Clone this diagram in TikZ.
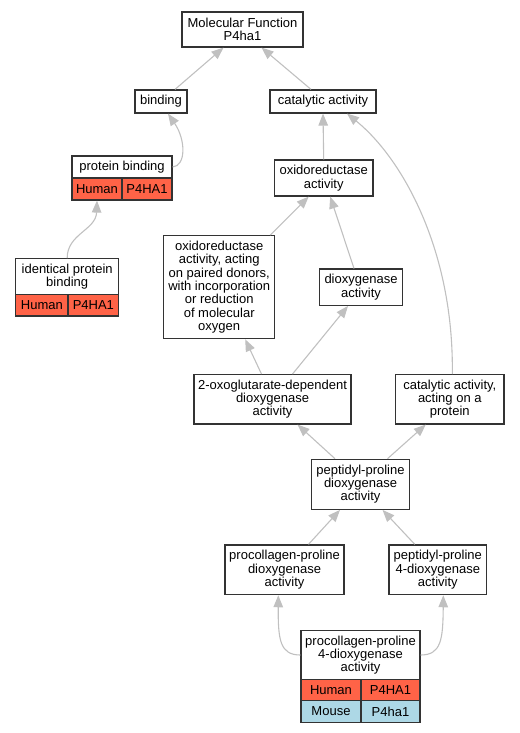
\documentclass[tikz,border=0pt]{standalone}
\usepackage{fontspec}
\setmainfont{Liberation Sans}
\usetikzlibrary{arrows.meta}
\definecolor{edgegray}{HTML}{C0C0C0}
\definecolor{boxline}{HTML}{333333}
\definecolor{tomatored}{HTML}{FF6347}
\definecolor{lblue}{HTML}{ADD8E6}
\newcommand{\gofont}{\fontsize{13}{13.3}\selectfont}
\tikzset{
  box/.style={draw=boxline, line width=1.2pt, fill=white, inner sep=0pt, align=center, font=\gofont},
  redcell/.style={box, fill=tomatored},
  bluecell/.style={box, fill=lblue},
  edge/.style={draw=edgegray, line width=1.1pt, -{Triangle[length=12pt,width=9.5pt,fill=edgegray]}}
}
\begin{document}
\begin{tikzpicture}[x=1pt,y=-1pt]
\useasboundingbox (0,0) rectangle (519,733);
% nodes
\node[box, minimum width=121pt, minimum height=35pt] (mf) at (242.5,29.5) {Molecular Function\\P4ha1};
\node[box, minimum width=52pt, minimum height=23pt] (bind) at (161,101.5) {binding};
\node[box, minimum width=106pt, minimum height=23pt] (cat) at (323,101.5) {catalytic activity};
% protein binding
\node[box, minimum width=100pt, minimum height=22pt] (pb) at (122,167) {protein binding};
\node[redcell, minimum width=50pt, minimum height=22pt] (pbh) at (97,189) {Human};
\node[redcell, minimum width=50pt, minimum height=22pt] (pbg) at (147,189) {P4HA1};
% identical protein binding
\node[box, minimum width=103pt, minimum height=36pt] (ipb) at (67.2,276.7) {identical protein\\binding};
\node[redcell, minimum width=52.3pt, minimum height=21.3pt] (ipbh) at (41.85,305.35) {Human};
\node[redcell, minimum width=50.7pt, minimum height=21.3pt] (ipbg) at (93.35,305.35) {P4HA1};
% oxidoreductase
\node[box, minimum width=98.7pt, minimum height=36pt] (ox) at (323.7,178) {oxidoreductase\\activity};
\node[box, minimum width=111pt, minimum height=103pt] (oxa) at (219.2,287.2) {oxidoreductase\\activity, acting\\on paired donors,\\with incorporation\\or reduction\\of molecular\\oxygen};
\node[box, minimum width=83.4pt, minimum height=36.3pt] (dio) at (361,287.2) {dioxygenase\\activity};
\node[box, minimum width=157pt, minimum height=49.3pt] (oxo) at (272.5,399.3) {2-oxoglutarate-dependent\\dioxygenase\\activity};
\node[box, minimum width=108.3pt, minimum height=49.3pt] (catp) at (449.8,399.3) {catalytic activity,\\acting on a\\protein};
\node[box, minimum width=97.7pt, minimum height=50pt] (pep) at (360.5,484.3) {peptidyl-proline\\dioxygenase\\activity};
\node[box, minimum width=119pt, minimum height=49.7pt] (pcd) at (284.5,569.8) {procollagen-proline\\dioxygenase\\activity};
\node[box, minimum width=97.7pt, minimum height=49.7pt] (pp4) at (437.8,569.8) {peptidyl-proline\\4-dioxygenase\\activity};
% procollagen-proline 4-dioxygenase
\node[box, minimum width=119pt, minimum height=48.6pt] (pc4) at (360.5,655) {procollagen-proline\\4-dioxygenase\\activity};
\node[redcell, minimum width=60pt, minimum height=21.4pt] (pc4h) at (331,690) {Human};
\node[redcell, minimum width=59pt, minimum height=21.4pt] (pc4g) at (390.5,690) {P4HA1};
\node[bluecell, minimum width=60pt, minimum height=21.6pt] (pc4m) at (331,711.5) {Mouse};
\node[bluecell, minimum width=59pt, minimum height=21.6pt] (pc4n) at (390.5,711.5) {P4ha1};
% edges
\draw[edge] ([xshift=14pt]bind.north) -- ([xshift=-19pt]mf.south);
\draw[edge] ([xshift=-12pt]cat.north) -- ([xshift=19pt]mf.south);
\draw[edge] (pb.east) .. controls (186,166) and (186,140) .. ([xshift=7pt]bind.south);
\draw[edge] (ipb.north) .. controls (67,234) and (96,230) .. (pbh.south);
\draw[edge] (ox.north) -- (cat.south);
\draw[edge] ([xshift=51pt]oxa.north) -- ([xshift=-15pt]ox.south);
\draw[edge] ([xshift=-7pt]dio.north) -- ([xshift=6.5pt]ox.south);
\draw[edge] ([xshift=2.5pt]catp.north) .. controls (454,250) and (402,158) .. ([xshift=24pt]cat.south);
\draw[edge] ([xshift=-11pt]oxo.north) -- ([xshift=26pt]oxa.south);
\draw[edge] ([xshift=20pt]oxo.north) -- ([xshift=-13pt]dio.south);
\draw[edge] ([xshift=-25.5pt]pep.north) -- ([xshift=25pt]oxo.south);
\draw[edge] ([xshift=27pt]pep.north) -- ([xshift=-24pt]catp.south);
\draw[edge] ([xshift=24pt]pcd.north) -- ([xshift=-20.5pt]pep.south);
\draw[edge] ([xshift=-23pt]pp4.north) -- ([xshift=22pt]pep.south);
\draw[edge] (pc4.west) .. controls (280,655) and (278,640) .. ([xshift=-6.2pt]pcd.south);
\draw[edge] (pc4.east) .. controls (441,655) and (443,640) .. ([xshift=5.5pt]pp4.south);
\end{tikzpicture}
\end{document}
